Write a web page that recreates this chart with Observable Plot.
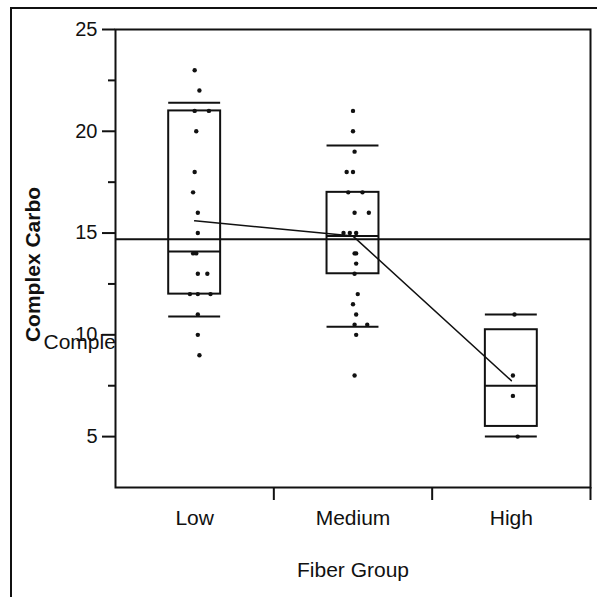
<!DOCTYPE html>
<html><head><meta charset="utf-8">
<script src="https://cdn.jsdelivr.net/npm/d3@7"></script>
<script src="https://cdn.jsdelivr.net/npm/@observablehq/plot@0.6"></script>
<style>
body{margin:0;background:#fff;}
#wrap{position:relative;width:597px;height:597px;overflow:hidden;background:#fff;}
#outer{position:absolute;left:10px;top:7px;width:600px;height:600px;border-left:2px solid #111;border-top:2px solid #111;pointer-events:none;}
</style></head><body><div id="wrap"><div id="outer"></div></div>
<script>
// categories
const groups = ["Low", "Medium", "High"];
const groupPos = [1, 2, 3];
// individual observations (Complex Carbo) and their horizontal jitter (in group units)
const lowValues    = [23, 22, 21, 21, 20, 18, 17, 16, 15, 14, 14, 13, 13, 12, 12, 12, 11, 10, 9];
const lowJitter    = [0, 0.03, 0, 0.09, 0.01, 0, -0.01, 0.02, 0.02, -0.01, 0.01, 0.02, 0.08, -0.03, 0.02, 0.10, 0.02, 0.02, 0.03];
const mediumValues = [21, 20, 19, 18, 18, 17, 17, 16, 16, 15, 15, 15, 14, 14, 13.5, 13, 12, 11.5, 11, 10.5, 10.5, 10, 8];
const mediumJitter = [0, 0, 0.01, -0.04, 0, -0.03, 0.06, 0.01, 0.10, -0.06, -0.02, 0.02, 0.01, 0.02, 0.02, 0.01, 0.03, 0, 0.02, 0.01, 0.09, 0.02, 0.01];
const highValues   = [11, 8, 7, 5];
const highJitter   = [0.02, 0.01, 0.01, 0.04];
// quantile box statistics per group
const q10    = [10.9, 10.4, 5];
const q25    = [12, 13, 5.5];
const q50    = [14.1, 14.85, 7.5];
const q75    = [21, 17, 10.25];
const q90    = [21.4, 19.3, 11];
const groupMeans = [15.6, 14.85, 7.75];
const grandMean = 14.7;
// tick values
const yMajor = [5, 10, 15, 20, 25];
const yMinor = [7.5, 12.5, 17.5, 22.5];
const xBounds = [1.5, 2.5, 3.5];

const points = [];
[[lowValues, lowJitter], [mediumValues, mediumJitter], [highValues, highJitter]].forEach(([vals, jit], g) => {
  vals.forEach((v, i) => points.push({pos: groupPos[g], jitter: jit[i], value: v}));
});
const boxes = groups.map((g, i) => ({pos: groupPos[i], q10: q10[i], q25: q25[i], q50: q50[i], q75: q75[i], q90: q90[i]}));
const means = groups.map((g, i) => ({pos: groupPos[i], mean: groupMeans[i]}));

const boxHalf = 0.164;
const ink = "#111";

const chart = Plot.plot({
  width: 597,
  height: 597,
  marginLeft: 115,
  marginRight: 7,
  marginTop: 29,
  marginBottom: 110,
  style: {fontFamily: "'Liberation Sans', Arial, sans-serif", background: "transparent", color: ink},
  x: {type: "linear", domain: [0.5, 3.5], axis: null},
  y: {domain: [2.5, 25], axis: null},
  marks: [
    Plot.frame({stroke: ink, strokeWidth: 2}),
    Plot.ruleY([grandMean], {stroke: ink, strokeWidth: 2}),
    Plot.rect(boxes, {x1: d => d.pos - boxHalf, x2: d => d.pos + boxHalf, y1: "q25", y2: "q75", fill: "none", stroke: ink, strokeWidth: 2}),
    Plot.ruleY(boxes, {y: "q50", x1: d => d.pos - boxHalf, x2: d => d.pos + boxHalf, stroke: ink, strokeWidth: 2}),
    Plot.ruleY(boxes, {y: "q10", x1: d => d.pos - boxHalf, x2: d => d.pos + boxHalf, stroke: ink, strokeWidth: 2}),
    Plot.ruleY(boxes, {y: "q90", x1: d => d.pos - boxHalf, x2: d => d.pos + boxHalf, stroke: ink, strokeWidth: 2}),
    Plot.line(means, {x: "pos", y: "mean", stroke: ink, strokeWidth: 1.5}),
    Plot.dot(points, {x: d => d.pos + d.jitter, y: "value", r: 2.2, fill: ink, stroke: "none"}),
    Plot.axisY(yMajor, {tickSize: 13, tickPadding: 5, fontSize: 20, label: null, stroke: ink, strokeWidth: 2}),
    Plot.axisY(yMinor, {tickSize: 7, tickFormat: () => "", label: null, stroke: ink, strokeWidth: 2}),
    Plot.axisX(xBounds, {tickSize: 13, tickFormat: () => "", label: null, stroke: ink, strokeWidth: 2}),
    Plot.axisX(groupPos, {tickSize: 0, tickPadding: 23, tickFormat: i => groups[i - 1], fontSize: 21, label: null}),
    Plot.text(["Complex Carbo"], {frameAnchor: "left", textAnchor: "middle", dx: -82, dy: 6, rotate: -90, fontSize: 21, fontWeight: "bold", fill: ink}),
    Plot.text([10], {y: d => d, text: () => "Comple", frameAnchor: "left", dx: -72, dy: 7, textAnchor: "start", fontSize: 21, fill: ink}),
    Plot.text(["Fiber Group"], {frameAnchor: "bottom", dy: 89, fontSize: 21, fill: ink})
  ]
});
chart.style.position = "absolute";
chart.style.left = "0";
chart.style.top = "0";
document.getElementById("wrap").appendChild(chart);
</script>
</body></html>
